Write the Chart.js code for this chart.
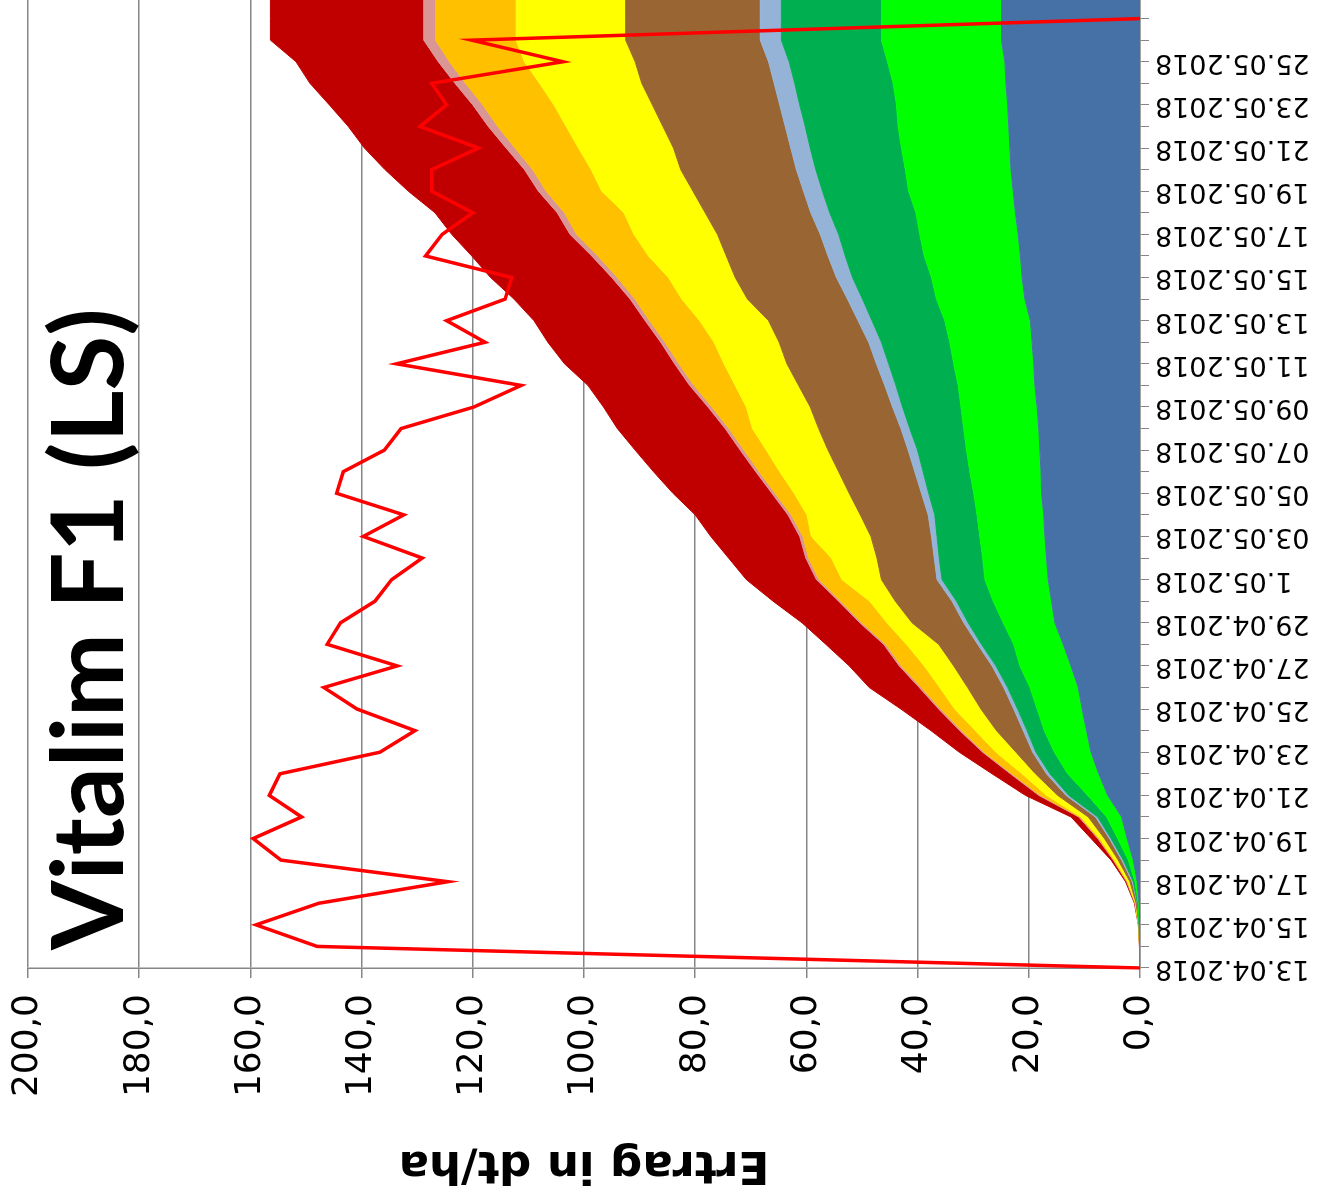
<!DOCTYPE html>
<html>
<head>
<meta charset="utf-8">
<title>Vitalim F1 (LS)</title>
<script src="https://cdn.jsdelivr.net/npm/chart.js@4/dist/chart.umd.min.js"></script>
<style>
  html, body { margin: 0; padding: 0; background: #fff; overflow: hidden; }
  body { width: 1330px; height: 1201px; position: relative; }
  /* Diagramm wird aufrecht gezeichnet und dann um 90 Grad gedreht, wie im Bild */
  #dreh { position: absolute; left: 0; top: 0; width: 1230px; height: 1330px;
          transform-origin: 0 0; transform: translate(0px, 1201px) rotate(-90deg); }
</style>
</head>
<body>
<div id="dreh"><canvas id="ertrag"></canvas></div>
<script>
// Titel und Achsentitel
const titel = 'Vitalim F1 (LS)';
const achsenTitel = 'Ertrag in dt/ha';

// Erntetage (jeder zweite wird beschriftet)
const datum = [
  '13.04.2018', '14.04.2018', '15.04.2018', '16.04.2018', '17.04.2018', '18.04.2018',
  '19.04.2018', '20.04.2018', '21.04.2018', '22.04.2018', '23.04.2018', '24.04.2018',
  '25.04.2018', '26.04.2018', '27.04.2018', '28.04.2018', '29.04.2018', '30.04.2018',
  '1.05.2018', '02.05.2018', '03.05.2018', '04.05.2018', '05.05.2018', '06.05.2018',
  '07.05.2018', '08.05.2018', '09.05.2018', '10.05.2018', '11.05.2018', '12.05.2018',
  '13.05.2018', '14.05.2018', '15.05.2018', '16.05.2018', '17.05.2018', '18.05.2018',
  '19.05.2018', '20.05.2018', '21.05.2018', '22.05.2018', '23.05.2018', '24.05.2018',
  '25.05.2018', '26.05.2018', '27.05.2018', '28.05.2018'
];

// Gestapelte Flaechen (dt/ha), von unten nach oben
const blau = [0, 0.02, 0.05, 0.15, 0.5, 1.2, 2.3, 3.3, 5.8, 7.4, 8.8, 9.6, 10.4, 11.1, 12.4, 13.8,
  15.3, 15.9, 16.5, 16.8, 17.1, 17.3, 17.7, 17.8, 18.0, 18.2, 18.5, 18.9, 19.1, 19.4, 19.7,
  20.7, 21.2, 21.5, 21.9, 22.4, 22.8, 23.2, 23.4, 23.6, 23.8, 24.1, 24.3, 24.9, 24.9, 24.9];
const hellgruen = [0, 0.02, 0.05, 0.15, 0.4, 0.9, 1.7, 2.7, 3.6, 5.6, 6.6, 7.6, 8.1, 8.7, 9.2, 8.9,
  9.3, 10.5, 11.4, 11.5, 11.7, 12.0, 12.2, 12.8, 13.2, 13.5, 13.7, 13.8, 14.4, 14.8, 15.4,
  15.9, 16.3, 17.3, 17.7, 17.9, 18.8, 19.0, 19.5, 19.9, 20.0, 20.3, 21.1, 21.6, 21.6, 21.6];
const dunkelgruen = [0, 0.01, 0.03, 0.15, 0.3, 0.9, 1.2, 1.6, 3.4, 3.2, 3.3, 3.1, 3.5, 4.0, 4.3, 5.8,
  6.3, 6.6, 7.7, 7.8, 7.7, 7.6, 8.1, 8.4, 8.8, 9.7, 10.5, 11.2, 11.7, 12.3, 13.1,
  13.3, 14.2, 14.2, 14.6, 15.5, 15.5, 16.1, 16.4, 16.7, 17.4, 17.7, 17.7, 18.0, 18.0, 18.0];
const hellblau = [0, 0, 0.02, 0.05, 0.2, 0.3, 0.3, 0.4, 0.5, 0.6, 0.6, 0.7, 0.7, 0.7, 0.7, 0.7,
  0.8, 0.8, 0.9, 0.9, 1.0, 1.2, 1.3, 1.5, 1.7, 1.6, 1.8, 2.0, 2.2, 2.3, 2.5,
  2.7, 2.9, 3.1, 3.3, 3.4, 3.4, 3.5, 3.5, 3.6, 3.6, 3.7, 3.7, 3.8, 3.8, 3.8];
const braun = [0, 0.01, 0.05, 0.2, 0.4, 0.6, 0.9, 1.3, 1.5, 2.0, 3.0, 4.8, 5.9, 6.5, 6.9, 7.0,
  9.3, 10.2, 10.0, 10.3, 10.9, 12.2, 13.0, 13.7, 14.4, 14.8, 14.8, 15.5, 16.1, 16.1, 16.1,
  18.0, 18.2, 18.3, 18.5, 19.0, 19.9, 20.8, 21.1, 22.0, 22.9, 23.8, 24.0, 24.2, 24.2, 24.2];
const gelb = [0, 0.01, 0.05, 0.1, 0.4, 0.6, 0.8, 1.3, 2.0, 2.4, 3.6, 3.8, 4.7, 5.0, 5.3, 5.8,
  4.5, 4.6, 7.1, 8.2, 10.7, 9.6, 9.9, 10.6, 11.1, 11.9, 11.5, 11.4, 11.3, 11.7, 12.4,
  11.8, 12.0, 14.0, 15.0, 14.6, 16.4, 16.1, 17.1, 17.4, 17.7, 18.4, 19.9, 19.7, 19.7, 19.7];
const orange = [0, 0, 0.02, 0.05, 0.1, 0.2, 0.2, 0.2, 1.1, 1.8, 2.1, 2.4, 2.5, 3.3, 4.1, 3.7,
  4.5, 5.2, 4.1, 4.1, 1.5, 2.8, 3.4, 3.7, 4.0, 4.2, 6.2, 7.4, 8.1, 8.8, 9.0,
  8.4, 9.2, 9.1, 10.3, 10.7, 10.0, 10.5, 11.4, 12.3, 12.8, 13.3, 13.5, 14.5, 14.5, 14.5];
const rosa = [0, 0, 0.01, 0.05, 0.1, 0.1, 0.2, 0.2, 0.3, 0.3, 0.3, 0.4, 0.4, 0.4, 0.4, 0.4,
  0.4, 0.4, 0.5, 0.5, 0.6, 0.6, 0.6, 0.6, 0.7, 0.7, 0.7, 0.8, 0.8, 0.8, 0.8,
  0.9, 1.0, 1.1, 1.2, 1.3, 1.4, 1.5, 1.6, 1.7, 1.8, 1.9, 2.0, 2.1, 2.1, 2.1];
const dunkelrot = [0, 0.03, 0.02, 0.1, 0.2, 0.4, 1.2, 1.4, 2.4, 3.3, 4.2, 5.2, 6.8, 9.0, 9.0, 10.4,
  10.4, 11.8, 12.6, 13.9, 16.0, 16.7, 17.8, 18.4, 18.9, 19.4, 18.8, 18.3, 19.8, 20.3, 20.0,
  20.9, 21.8, 21.6, 21.3, 22.0, 23.4, 25.1, 25.5, 25.2, 25.8, 26.1, 25.6, 27.6, 27.6, 27.6];

// rote Linie (nicht gestapelt)
const rot = [0, 148, 159, 147.7, 124.5, 154.5, 159.5, 150.8, 156.6, 154.7, 136.7, 130.4, 140.8,
  146.8, 133.6, 146.2, 143.8, 137.6, 134.6, 129.1, 139.7, 132.4, 144.5, 143.3, 135.9, 132.9,
  119.8, 111.3, 133.7, 117.8, 124.7, 114.2, 113, 128.5, 125.5, 120, 127.4, 127.4, 119, 129.5,
  124.7, 127.4, 103.8, 120.2, 0, null];

// Achse
const achseMax = 200;
const achseSchritt = 20;

const flaechen = [
  [blau, '#4571A6'],
  [hellgruen, '#00FF00'],
  [dunkelgruen, '#00B050'],
  [hellblau, '#95B3D7'],
  [braun, '#996633'],
  [gelb, '#FFFF00'],
  [orange, '#FFC000'],
  [rosa, '#D99694'],
  [dunkelrot, '#C00000']
];

const datasets = flaechen.map(([werte, farbe], i) => ({
  data: werte,
  backgroundColor: farbe,
  borderColor: farbe,
  borderWidth: 1,
  pointRadius: 0,
  tension: 0,
  fill: i === 0 ? 'origin' : '-1'
}));

datasets.push({
  data: rot,
  yAxisID: 'y2',
  borderColor: '#FF0000',
  borderWidth: 3.5,
  pointRadius: 0,
  tension: 0,
  fill: false,
  order: -1
});

// grosser Titel oben links im Diagramm
const titelPlugin = {
  id: 'titel',
  afterDraw(chart) {
    const ctx = chart.ctx;
    const area = chart.chartArea;
    ctx.save();
    ctx.font = 'bold 100px Lato';
    ctx.fillStyle = '#000';
    ctx.textBaseline = 'alphabetic';
    ctx.fillText(titel, area.left + 18, area.top + 95);
    ctx.restore();
  }
};

new Chart(document.getElementById('ertrag'), {
  type: 'line',
  data: { labels: datum, datasets: datasets },
  options: {
    responsive: true,
    maintainAspectRatio: false,
    animation: false,
    layout: { padding: { top: 28, right: 26, left: 0, bottom: 0 } },
    plugins: { legend: { display: false }, tooltip: { enabled: false } },
    scales: {
      x: {
        offset: false,
        grid: { drawOnChartArea: false, drawTicks: true, tickLength: 9, color: '#868686' },
        border: { color: '#868686', width: 1.5 },
        ticks: {
          autoSkip: false, maxRotation: 90, minRotation: 90, padding: 6, color: '#000',
          font: { family: 'DejaVu Sans', size: 27 },
          callback: (v, i) => (i % 2 === 0 && i <= 42) ? datum[i] : ''
        },
        afterFit: s => { s.height = 190; s.paddingLeft = 0; s.paddingRight = 0; }
      },
      y: {
        stacked: true,
        min: 0,
        max: achseMax,
        grid: { color: '#868686', lineWidth: 1.5, tickLength: 10 },
        border: { color: '#868686', width: 1.5 },
        ticks: {
          stepSize: achseSchritt, padding: 16, color: '#000',
          font: { family: 'DejaVu Sans', size: 36 },
          callback: v => v.toFixed(1).replace('.', ',')
        },
        title: {
          display: true, text: achsenTitel, color: '#000',
          font: { family: 'DejaVu Sans', size: 45, weight: 'bold' },
          padding: { top: 10, bottom: 0 }
        },
        afterFit: s => { s.width = 233; s.paddingTop = 0; s.paddingBottom = 0; }
      },
      y2: { display: false, min: 0, max: achseMax }
    }
  },
  plugins: [titelPlugin]
});
</script>
</body>
</html>
